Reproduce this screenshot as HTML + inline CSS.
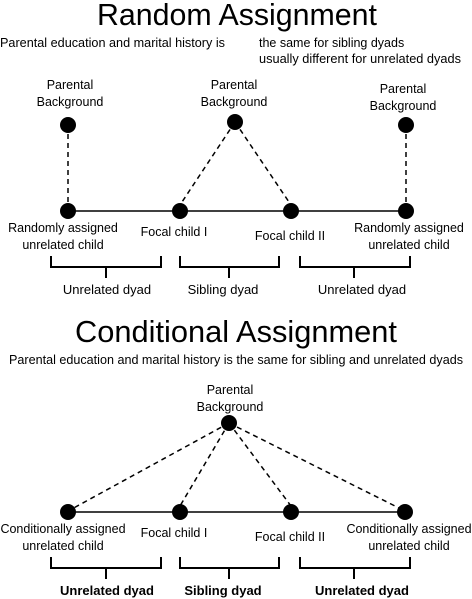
<!DOCTYPE html>
<html><head><style>
body{margin:0;background:#fff;}
svg{display:block;font-family:"Liberation Sans",sans-serif;}
</style></head><body>
<svg width="472" height="599" viewBox="0 0 472 599" xmlns="http://www.w3.org/2000/svg">
<g fill="#000" text-anchor="middle">
<text x="237" y="25" font-size="31" textLength="280" lengthAdjust="spacingAndGlyphs">Random Assignment</text>
<text x="0" y="47" font-size="12.5" text-anchor="start" textLength="225" lengthAdjust="spacingAndGlyphs">Parental education and marital history is</text>
<text x="259" y="47" font-size="12.5" text-anchor="start">the same for sibling dyads</text>
<text x="259" y="63" font-size="12.5" text-anchor="start" textLength="202" lengthAdjust="spacingAndGlyphs">usually different for unrelated dyads</text>
<g font-size="12.5">
<text x="70" y="89">Parental</text><text x="70" y="106">Background</text>
<text x="234" y="89">Parental</text><text x="234" y="106">Background</text>
<text x="403" y="93">Parental</text><text x="403" y="110">Background</text>
<text x="63" y="232">Randomly assigned</text><text x="63" y="249">unrelated child</text>
<text x="174" y="236">Focal child I</text>
<text x="290" y="240">Focal child II</text>
<text x="409" y="232">Randomly assigned</text><text x="409" y="249">unrelated child</text>
<text x="107" y="294" font-size="13">Unrelated dyad</text>
<text x="223" y="294" font-size="13">Sibling dyad</text>
<text x="362" y="294" font-size="13">Unrelated dyad</text>
</g>
<text x="236" y="342" font-size="31" textLength="322" lengthAdjust="spacingAndGlyphs">Conditional Assignment</text>
<text x="236" y="364" font-size="12.5" textLength="454" lengthAdjust="spacingAndGlyphs">Parental education and marital history is the same for sibling and unrelated dyads</text>
<g font-size="12.5">
<text x="230" y="394">Parental</text><text x="230" y="411">Background</text>
<text x="63" y="533">Conditionally assigned</text><text x="63" y="550">unrelated child</text>
<text x="174" y="537">Focal child I</text>
<text x="290" y="541">Focal child II</text>
<text x="409" y="533">Conditionally assigned</text><text x="409" y="550">unrelated child</text>
</g>
<g font-size="13" font-weight="bold">
<text x="107" y="595">Unrelated dyad</text>
<text x="223" y="595">Sibling dyad</text>
<text x="362" y="595">Unrelated dyad</text>
</g>
</g>
<g stroke="#000" stroke-width="1.5" fill="none">
<line x1="68" y1="211" x2="406" y2="211"/>
<line x1="68" y1="512" x2="405" y2="512"/>
<g stroke-dasharray="5,4">
<line x1="68" y1="125" x2="68" y2="211"/>
<line x1="406" y1="125" x2="406" y2="211"/>
<line x1="235" y1="122" x2="180" y2="205"/>
<line x1="235" y1="122" x2="291" y2="205"/>
<line x1="229" y1="423" x2="70" y2="510"/>
<line x1="229" y1="423" x2="180" y2="506"/>
<line x1="229" y1="423" x2="291" y2="506"/>
<line x1="229" y1="423" x2="403" y2="510"/>
</g>
<g stroke-width="2">
<path d="M51 256V267H161V256M106 267V278"/>
<path d="M180 256V267H279V256M229 267V278"/>
<path d="M300 256V267H410V256M354 267V278"/>
<path d="M51 557V568H161V557M106 568V579"/>
<path d="M180 557V568H279V557M229 568V579"/>
<path d="M300 557V568H410V557M354 568V579"/>
</g>
</g>
<g fill="#000">
<circle cx="68" cy="125" r="8"/><circle cx="235" cy="122" r="8"/><circle cx="406" cy="125" r="8"/>
<circle cx="68" cy="211" r="8"/><circle cx="180" cy="211" r="8"/><circle cx="291" cy="211" r="8"/><circle cx="406" cy="211" r="8"/>
<circle cx="229" cy="423" r="8"/>
<circle cx="68" cy="512" r="8"/><circle cx="180" cy="512" r="8"/><circle cx="291" cy="512" r="8"/><circle cx="405" cy="512" r="8"/>
</g>
</svg>
</body></html>
